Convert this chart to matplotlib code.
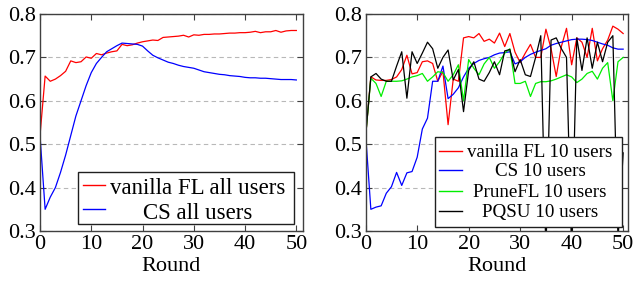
import matplotlib
matplotlib.use("Agg")
import matplotlib.pyplot as plt
from matplotlib.patches import Rectangle
from matplotlib.lines import Line2D

plt.rcParams["font.family"] = ["Liberation Serif", "DejaVu Serif"]

ROUNDS = list(range(51))
X_TICKS = [0, 10, 20, 30, 40, 50]
Y_TICKS = [0.3, 0.4, 0.5, 0.6, 0.7, 0.8]

# left panel: all users
vanilla_all = [0.52, 0.657, 0.645, 0.650, 0.658, 0.668, 0.692, 0.688, 0.690, 0.701,
               0.698, 0.709, 0.706, 0.710, 0.713, 0.715, 0.730, 0.727, 0.729, 0.733,
               0.736, 0.738, 0.740, 0.739, 0.746, 0.747, 0.748, 0.749, 0.751, 0.747,
               0.752, 0.751, 0.753, 0.753, 0.754, 0.754, 0.755, 0.756, 0.756, 0.757,
               0.757, 0.758, 0.760, 0.757, 0.759, 0.759, 0.762, 0.758, 0.761, 0.762, 0.762]
cs_all = [0.52, 0.35, 0.378, 0.40, 0.435, 0.475, 0.52, 0.565, 0.60, 0.635,
          0.665, 0.686, 0.70, 0.713, 0.72, 0.727, 0.733, 0.732, 0.731, 0.730,
          0.726, 0.715, 0.705, 0.699, 0.694, 0.689, 0.686, 0.682, 0.679, 0.677,
          0.675, 0.671, 0.667, 0.665, 0.663, 0.661, 0.660, 0.658, 0.657, 0.656,
          0.654, 0.653, 0.653, 0.652, 0.652, 0.651, 0.650, 0.649, 0.649, 0.649, 0.648]

# right panel: 10 users
vanilla_10 = [0.52, 0.655, 0.648, 0.647, 0.647, 0.649, 0.655, 0.672, 0.705, 0.662,
              0.665, 0.690, 0.692, 0.686, 0.645, 0.668, 0.545, 0.650, 0.645, 0.745,
              0.748, 0.745, 0.755, 0.737, 0.742, 0.733, 0.756, 0.725, 0.755, 0.712,
              0.688, 0.710, 0.730, 0.700, 0.700, 0.765, 0.720, 0.656, 0.725, 0.767,
              0.683, 0.745, 0.735, 0.700, 0.767, 0.692, 0.720, 0.740, 0.772, 0.765, 0.755]
cs_10 = [0.52, 0.35, 0.355, 0.358, 0.387, 0.402, 0.435, 0.405, 0.434, 0.437,
         0.47, 0.535, 0.56, 0.645, 0.645, 0.68, 0.605, 0.615, 0.63, 0.655,
         0.675, 0.686, 0.693, 0.697, 0.70, 0.706, 0.71, 0.711, 0.713, 0.685,
         0.69, 0.70, 0.707, 0.712, 0.716, 0.72, 0.728, 0.732, 0.735, 0.738,
         0.741, 0.742, 0.742, 0.741, 0.739, 0.735, 0.731, 0.728, 0.722, 0.719, 0.719]
prunefl_10 = [0.52, 0.652, 0.64, 0.61, 0.645, 0.645, 0.645, 0.646, 0.65, 0.655,
              0.658, 0.663, 0.645, 0.655, 0.667, 0.665, 0.645, 0.66, 0.683, 0.60,
              0.695, 0.675, 0.66, 0.685, 0.70, 0.675, 0.69, 0.71, 0.72, 0.64,
              0.64, 0.645, 0.61, 0.64, 0.644, 0.644, 0.646, 0.65, 0.655, 0.66,
              0.655, 0.642, 0.65, 0.663, 0.668, 0.65, 0.675, 0.688, 0.60, 0.69, 0.70]
pqsu_10 = [0.52, 0.655, 0.663, 0.65, 0.645, 0.645, 0.68, 0.713, 0.606, 0.713,
           0.686, 0.71, 0.735, 0.72, 0.675, 0.70, 0.717, 0.648, 0.672, 0.575,
           0.67, 0.69, 0.65, 0.645, 0.665, 0.69, 0.66, 0.715, 0.718, 0.667,
           0.695, 0.66, 0.656, 0.70, 0.75, 0.25, 0.74, 0.745, 0.72, 0.70,
           0.25, 0.745, 0.67, 0.745, 0.675, 0.735, 0.69, 0.735, 0.75, 0.28, 0.48]

LEFT_LABELS = ["vanilla FL all users", "CS all users"]
RIGHT_LABELS = ["vanilla FL 10 users", "CS 10 users", "PruneFL 10 users", "PQSU 10 users"]

FRAME = "#404040"


def style_axes(ax, xmax):
    ax.set_xlim(0, xmax)
    ax.set_ylim(0.3, 0.8)
    ax.set_xticks(X_TICKS)
    ax.set_yticks(Y_TICKS)
    ax.set_yticklabels([f"{v:.1f}" for v in Y_TICKS])
    ax.tick_params(direction="in", top=True, right=True, length=4, width=0.8,
                   color=FRAME, labelsize=16, pad=3)
    ax.yaxis.grid(True, linestyle=(0, (4, 3)), color="#b8b8b8", linewidth=0.8)
    ax.set_axisbelow(True)
    for s in ax.spines.values():
        s.set_color(FRAME)
        s.set_linewidth(1.0)
    ax.set_xlabel("Round", fontsize=16, labelpad=2)


def box_legend(ax, lines, labels, box, rows, line_x, text_x, base_off, fontsize):
    # pgfplots-like legend with centred text
    x0, y0, x1, y1 = box
    ax.add_patch(Rectangle((x0, y0), x1 - x0, y1 - y0, transform=ax.transAxes,
                           facecolor="white", edgecolor="#202020", linewidth=1.0,
                           zorder=5))
    for line, label, y in zip(lines, labels, rows):
        ax.add_artist(Line2D(line_x, [y, y], transform=ax.transAxes,
                             color=line.get_color(), linewidth=1.0, zorder=6))
        ax.text(text_x, y - base_off, label, transform=ax.transAxes, ha="center",
                va="baseline", fontsize=fontsize, zorder=6)


fig = plt.figure(figsize=(6.34, 2.81), dpi=100)
ax1 = fig.add_axes([40 / 634, 50 / 281, 263 / 634, 217 / 281])
ax2 = fig.add_axes([365.7 / 634, 50 / 281, 262.6 / 634, 217 / 281])

l1, = ax1.plot(ROUNDS, vanilla_all, color="#ff0000", linewidth=0.9)
l2, = ax1.plot(ROUNDS, cs_all, color="#0000ff", linewidth=0.9)
style_axes(ax1, 51.3)
box_legend(ax1, [l1, l2], LEFT_LABELS, (0.1445, 0.032, 0.966, 0.272),
           [0.212, 0.100], [0.165, 0.247], 0.601, 0.043, 16.5)

r1, = ax2.plot(ROUNDS, vanilla_10, color="#ff0000", linewidth=0.9)
r2, = ax2.plot(ROUNDS, cs_10, color="#0000ff", linewidth=0.9)
r3, = ax2.plot(ROUNDS, prunefl_10, color="#00ee00", linewidth=0.9)
r4, = ax2.plot(ROUNDS, pqsu_10, color="#000000", linewidth=0.9)
style_axes(ax2, 51.0)
box_legend(ax2, [r1, r2, r3, r4], RIGHT_LABELS, (0.264, 0.020, 0.975, 0.4346),
           [0.369, 0.281, 0.184, 0.092], [0.280, 0.366], 0.664, 0.027, 13.7)

fig.savefig("out.png", dpi=100)
